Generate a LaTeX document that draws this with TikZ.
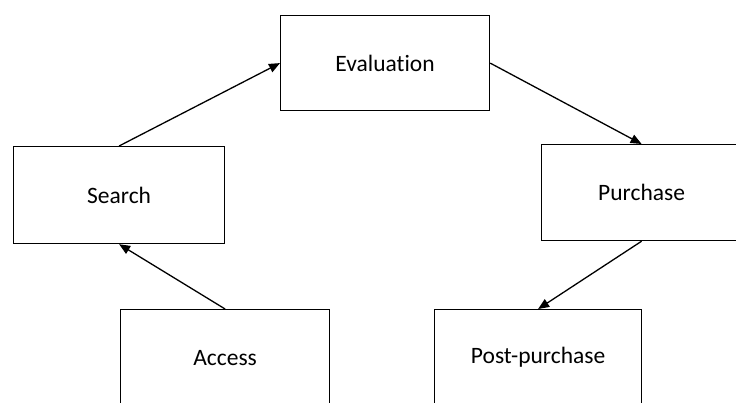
\documentclass[tikz,border=0pt]{standalone}
\usepackage{fontspec}
\setmainfont[Ligatures={NoCommon}]{Carlito}
\usetikzlibrary{arrows.meta}
\begin{document}
\begin{tikzpicture}[x=1pt,y=-1pt,
  box/.style={draw=black,line width=1.2pt,fill=white,inner sep=0pt,anchor=north west},
  lbl/.style={font=\fontsize{23.5}{28}\selectfont,text=black,inner sep=0pt},
  conn/.style={draw=black,line width=1.3pt,-{Triangle[length=11pt,width=9pt]}}]
\useasboundingbox (0,0) rectangle (736,403);
\clip (0,0) rectangle (736,403);
\fill[white] (0,0) rectangle (736,403);
\node[box,minimum width=209pt,minimum height=95pt] (eval) at (280,15) {};
\node[box,minimum width=211pt,minimum height=97pt] (search) at (13,146) {};
\node[box,minimum width=200pt,minimum height=96pt] (purch) at (541,144) {};
\node[box,minimum width=209pt,minimum height=96pt] (access) at (120,309) {};
\node[box,minimum width=207pt,minimum height=96pt] (post) at (434,309) {};
\node[lbl] (teval) at (eval.center) {Evaluation};
\node[lbl] (tsearch) at (search.center) {Search};
\node[lbl] (tpurch) at (purch.center) {Purchase};
\node[lbl] (taccess) at (access.center) {Access};
\node[lbl] (tpost) at (post.center) {Post-purchase};
\draw[conn] (search.north) -- (eval.west);
\draw[conn] (eval.east) -- (purch.north);
\draw[conn] (purch.south) -- (post.north);
\draw[conn] (access.north) -- (search.south);
\end{tikzpicture}
\end{document}
